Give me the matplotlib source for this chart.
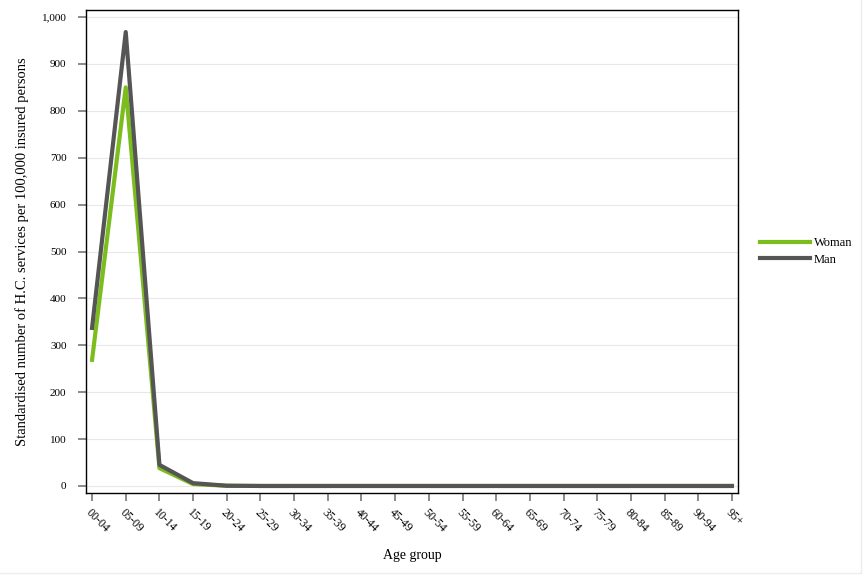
import matplotlib.pyplot as plt
from matplotlib.lines import Line2D
import numpy as np

age_groups = ["00-04", "05-09", "10-14", "15-19", "20-24", "25-29", "30-34", "35-39",
              "40-44", "45-49", "50-54", "55-59", "60-64", "65-69", "70-74", "75-79",
              "80-84", "85-89", "90-94", "95+"]
woman = [269, 850, 38, 4, 0.5, 0, 0, 0, 0, 0, 0, 0, 0, 0, 0, 0, 0, 0, 0, 0]
man = [337, 968, 45, 6, 0.5, 0, 0, 0, 0, 0, 0, 0, 0, 0, 0, 0, 0, 0, 0, 0]

plt.rcParams["font.family"] = ["Liberation Serif", "DejaVu Serif"]

fig = plt.figure(figsize=(8.64, 5.76), dpi=100)
ax = fig.add_axes([86 / 864, 1 - 493 / 576, (738 - 86) / 864, (493 - 10) / 576])

x = np.arange(len(age_groups))
ax.plot(x, woman, color="#7cbd1e", linewidth=3, label="Woman")
ax.plot(x, man, color="#555555", linewidth=3, label="Man")

ax.set_xlim(-0.18, 19.18)
ax.set_ylim(-15, 1015)
ax.set_yticks(np.arange(0, 1001, 100))
ax.set_yticklabels([f"{v:,}" for v in range(0, 1001, 100)], fontsize=8)
ax.set_xticks(x)
ax.set_xticklabels(age_groups, rotation=-45, ha="left", rotation_mode="anchor", fontsize=8.5)
ax.tick_params(axis="both", direction="out", length=6, color="#777777", width=1.2)
ax.tick_params(axis="y", pad=8)
ax.tick_params(axis="x", pad=4)
ax.grid(axis="y", color="#e8e8e8", linewidth=0.8)
ax.set_axisbelow(True)
for spine in ax.spines.values():
    spine.set_color("black")
    spine.set_linewidth(1)

ax.set_ylabel("Standardised number of H.C. services per 100,000 insured persons",
              fontsize=10.5, labelpad=9)
ax.set_xlabel("Age group", fontsize=10, labelpad=10)

ax.legend(loc="center left", bbox_to_anchor=(1.017, 0.5), frameon=False, fontsize=9,
          handlelength=4, handletextpad=0.3, labelspacing=0.35)

# faint outer frame of the exported image
fig.add_artist(Line2D([0.9965, 0.9965], [0.005, 1], transform=fig.transFigure,
                      color="#eeeeee", linewidth=1))
fig.add_artist(Line2D([0, 0.9965], [0.005, 0.005], transform=fig.transFigure,
                      color="#eeeeee", linewidth=1))

fig.savefig("out.png", dpi=100)
